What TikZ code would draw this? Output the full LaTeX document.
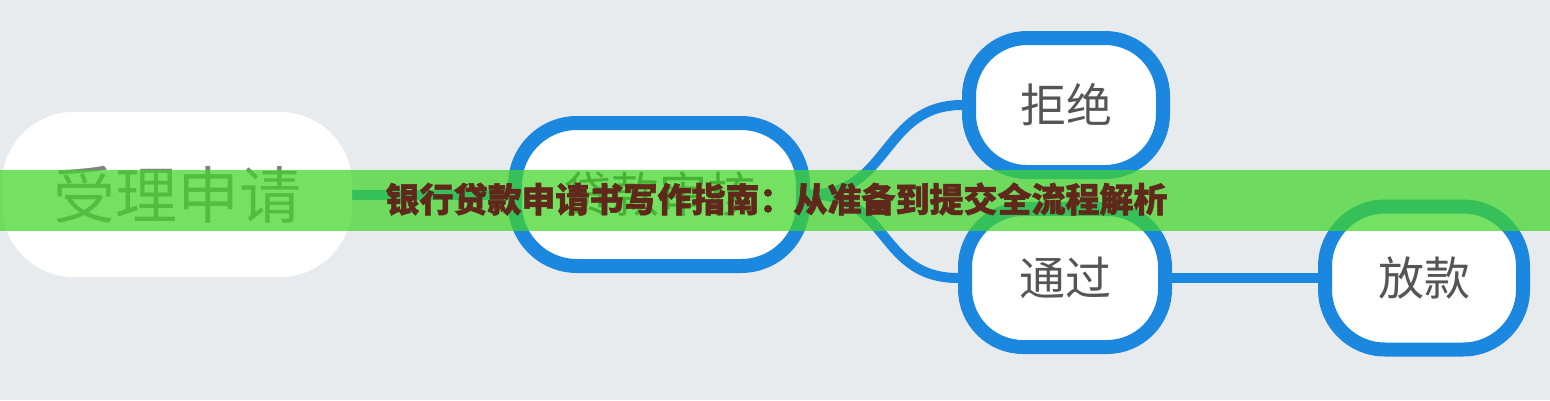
\documentclass[tikz,border=0pt]{standalone}
\usepackage{fontspec}
\newfontfamily\cjk{Noto Sans CJK SC}
\newfontfamily\cjkheavy[BoldFeatures={FakeBold=1.6}]{Noto Sans CJK SC}
\definecolor{bg}{RGB}{232,235,238}
\definecolor{nodeblue}{RGB}{28,135,222}
\definecolor{labelgray}{RGB}{85,85,85}
\definecolor{lightgray}{RGB}{130,130,130}
\definecolor{bandgreen}{RGB}{64,214,40}
\definecolor{titlebrown}{RGB}{96,40,26}
\pgfdeclarelayer{backdrop}
\pgfdeclarelayer{links}
\pgfsetlayers{backdrop,links,main}
\tikzset{
  pill/.style={rectangle, inner sep=0pt, fill=white, font=\cjk\fontsize{46}{50}\selectfont, text=labelgray},
  bluepill/.style={pill, draw=nodeblue, line width=14pt},
  link/.style={draw=nodeblue, line width=10pt},
}
\begin{document}
\begin{tikzpicture}[x=1pt,y=-1pt]
\useasboundingbox (0,0) rectangle (1550,400);
\begin{pgfonlayer}{backdrop}
\fill[bg] (0,0) rectangle (1550,400);
\end{pgfonlayer}
% nodes
\node[pill, minimum width=350pt, minimum height=165pt, rounded corners=72pt,
      font=\cjk\fontsize{62}{66}\selectfont, text=lightgray] (n1) at (177,194.5) {受理申请};
\node[bluepill, minimum width=288pt, minimum height=143pt, rounded corners=62pt,
      font=\cjk\fontsize{48}{52}\selectfont] (n2) at (659,194.5) {贷款审核};
\node[bluepill, minimum width=194pt, minimum height=134pt, rounded corners=58pt] (n3) at (1066,105) {拒绝};
\node[bluepill, minimum width=200pt, minimum height=138pt, rounded corners=58pt] (n4) at (1065,278) {通过};
\node[bluepill, minimum width=198pt, minimum height=143pt, rounded corners=60pt] (n5) at (1424,278) {放款};
% connectors
\begin{pgfonlayer}{links}
\path[link] (n1.east) -- (n2.west);
\path[link] (n2.east) .. controls +(80,0) and +(-80,0) .. (n3.west);
\path[link] (n2.east) .. controls +(80,0) and +(-80,0) .. (n4.west);
\path[link] (n4.east) -- (n5.west);
\end{pgfonlayer}
% banner
\fill[bandgreen, opacity=0.72] (0,170) rectangle (1550,231);
\node[font=\cjkheavy\bfseries\fontsize{34}{38}\selectfont, text=titlebrown, inner sep=0pt] (title) at (776.5,199) {银行贷款申请书写作指南：从准备到提交全流程解析};
\end{tikzpicture}
\end{document}
